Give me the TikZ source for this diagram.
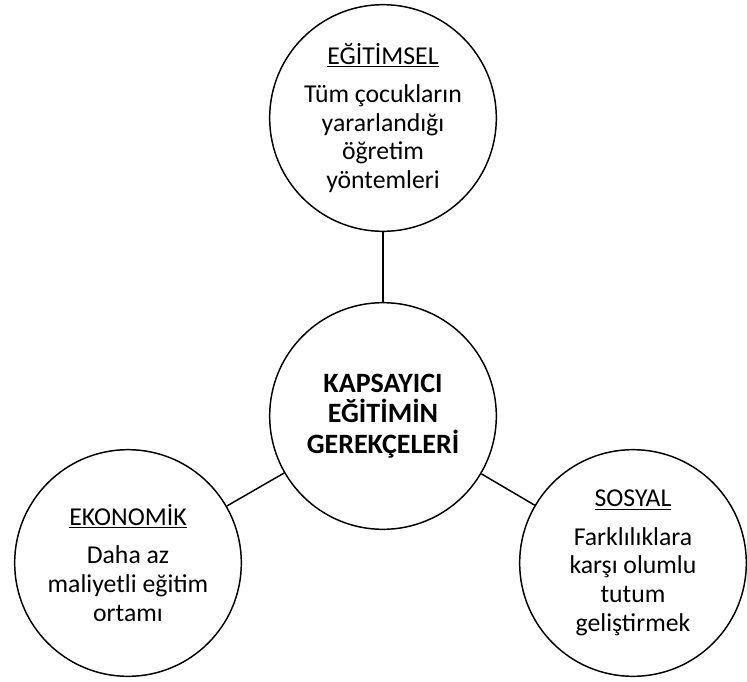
\documentclass[tikz,border=0pt]{standalone}
\usepackage{fontspec}
\setmainfont{Carlito}
\usetikzlibrary{positioning}

\tikzset{
  daire/.style={circle, draw=black, line width=1.1pt, minimum size=170pt, inner sep=0pt,
    align=center, font=\fontsize{19.3}{21.6}\selectfont},
  merkezdaire/.style={daire, font=\fontsize{21}{23}\selectfont\bfseries}
}
\newcommand{\baslikyaz}[1]{\underline{#1}\\[7pt]}

\begin{document}
\begin{tikzpicture}[x=0.75pt,y=-0.75pt]
  \useasboundingbox (0,0) rectangle (747,682);

  \node[merkezdaire] (merkez) at (383,416) {KAPSAYICI\\EĞİTİMİN\\GEREKÇELERİ};
  \node[daire] (egitimsel) at (383,118) {\baslikyaz{EĞİTİMSEL}Tüm çocukların\\yararlandığı\\öğretim\\yöntemleri};
  \node[daire] (ekonomik) at (128,563) {\baslikyaz{EKONOMİK}Daha az\\maliyetli eğitim\\ortamı};
  \node[daire] (sosyal) at (633,563) {\baslikyaz{SOSYAL}Farklılıklara\\karşı olumlu\\tutum\\geliştirmek};

  \draw[line width=1.1pt] (merkez) -- (egitimsel);
  \draw[line width=1.1pt] (merkez) -- (ekonomik);
  \draw[line width=1.1pt] (merkez) -- (sosyal);

\end{tikzpicture}
\end{document}
